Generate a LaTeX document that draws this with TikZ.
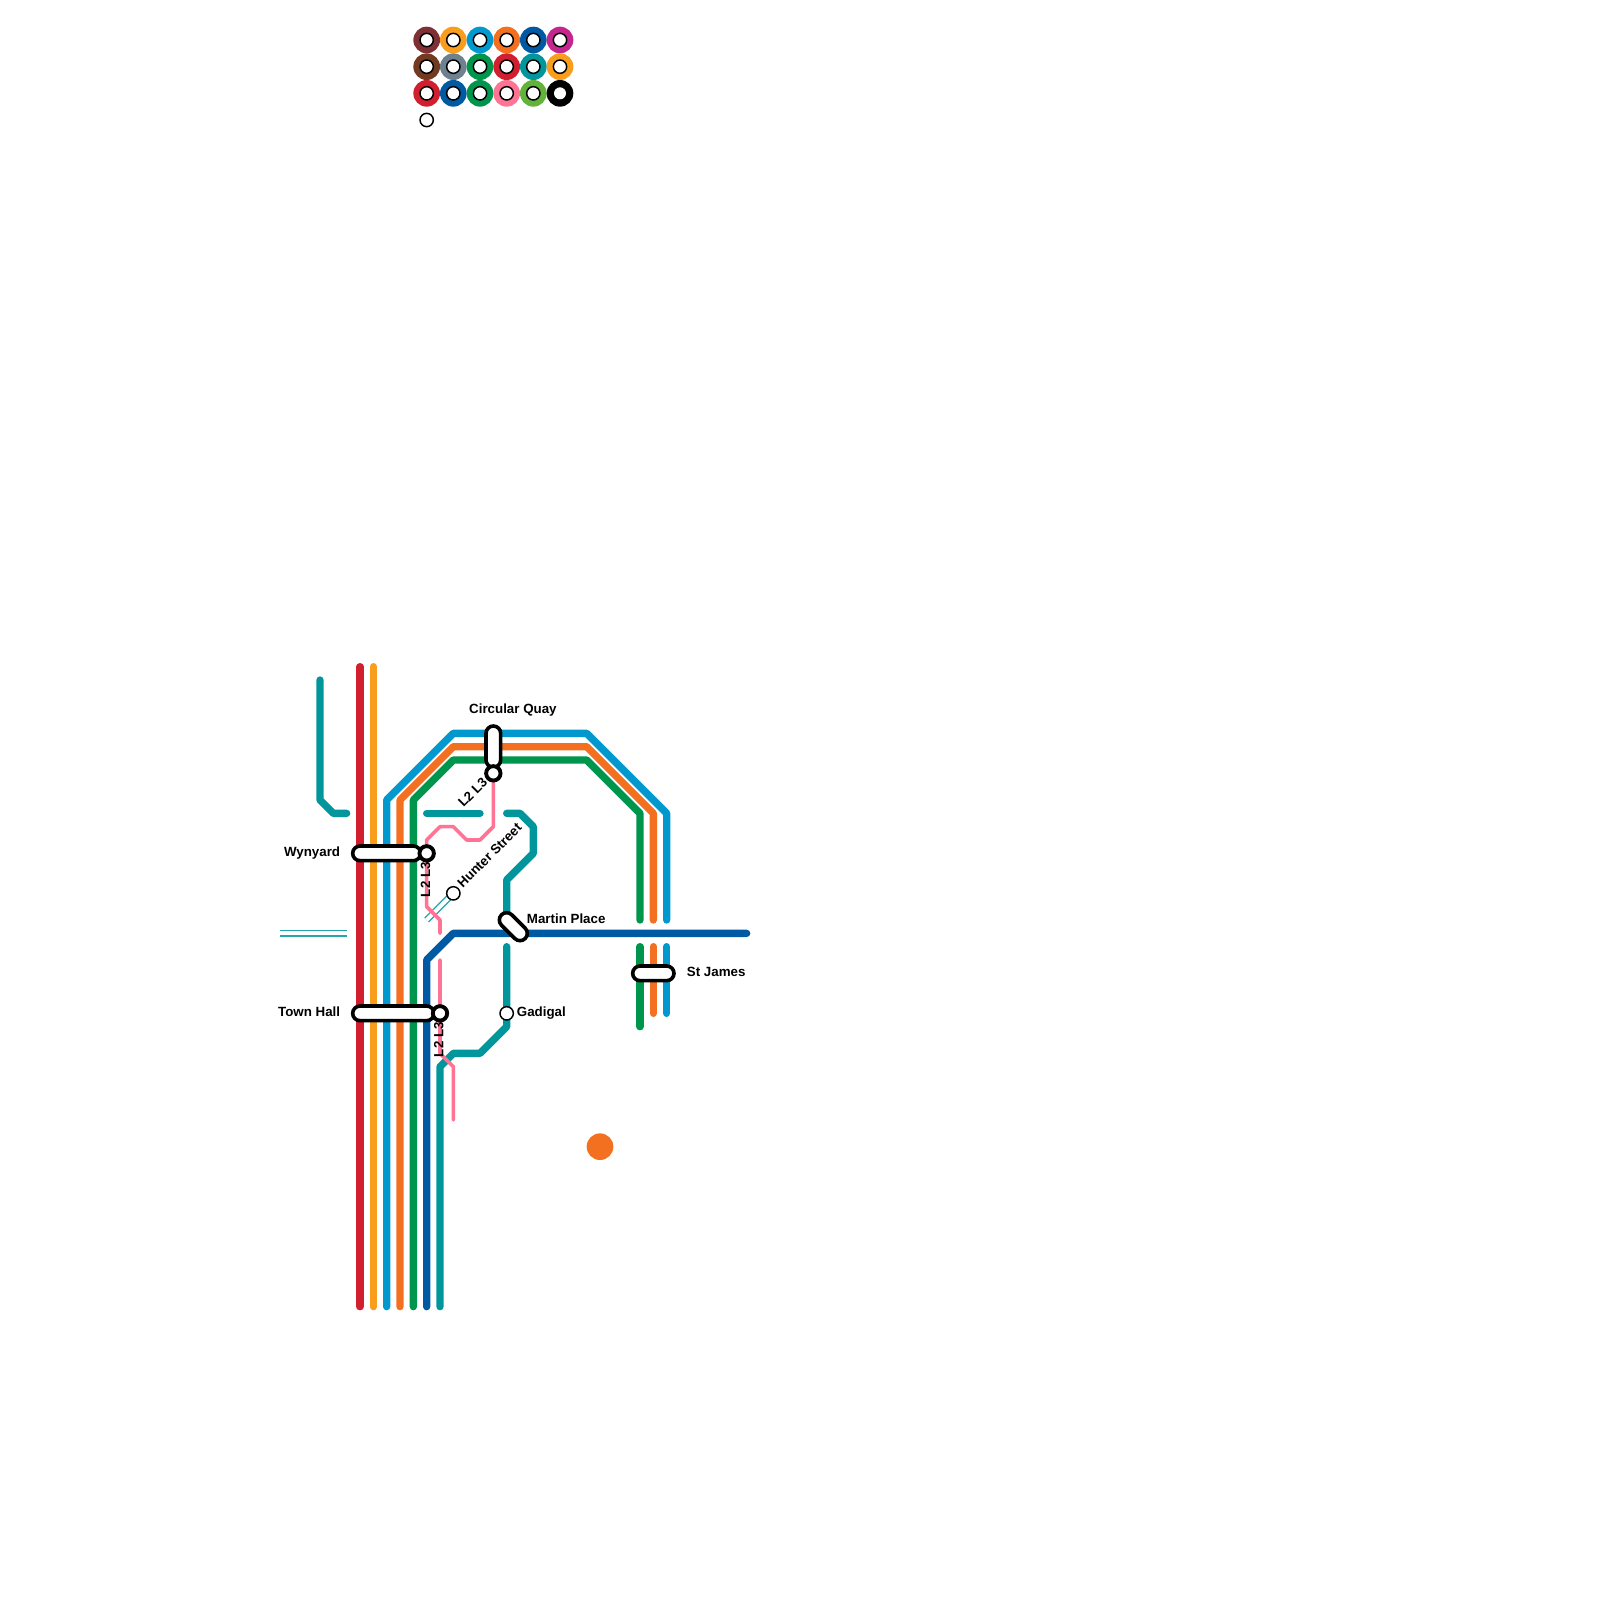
\documentclass[tikz,border=0pt]{standalone}
\usepackage{fontspec}
\setmainfont{Liberation Sans}[BoldFont={Liberation Sans Bold}]
\usetikzlibrary{shapes.misc}
\definecolor{cteal}{HTML}{00969B}
\definecolor{cred}{HTML}{D11F2F}
\definecolor{cyel}{HTML}{F99D1C}
\definecolor{cblue}{HTML}{0098CD}
\definecolor{corg}{HTML}{F37021}
\definecolor{cgrn}{HTML}{00954C}
\definecolor{cnavy}{HTML}{005AA3}
\definecolor{cpink}{HTML}{FF7394}
\definecolor{cmag}{HTML}{C4258F}
\definecolor{cwine}{HTML}{7F3035}
\definecolor{cbrown}{HTML}{723B1F}
\definecolor{cslate}{HTML}{6F818E}
\definecolor{clime}{HTML}{62B33A}
\tikzset{
  x=10pt,y=-10pt,
  route/.style={line width=5.5pt,line cap=round,line join=round},
  thinroute/.style={line width=2.7pt,line cap=round,line join=round,cpink},
  capsule/.style={rounded rectangle,draw=black,fill=white,line width=2.7pt,inner sep=0pt,minimum height=11pt},
  stop/.style={circle,draw=black,fill=white,line width=1.1pt,inner sep=0pt,minimum size=10pt},
  hub/.style={circle,draw=black,fill=white,line width=2.9pt,inner sep=0pt,minimum size=10.8pt},
  disc/.style={circle,fill=#1,inner sep=0pt,minimum size=20pt},
  lab/.style={font=\bfseries\fontsize{10pt}{12pt}\selectfont,inner sep=0pt},
  tunnelA/.style={cteal!85!white,line width=5.1pt},
  tunnelB/.style={white,line width=2.9pt}
}
\begin{document}
\begin{tikzpicture}
\useasboundingbox (0,0) rectangle (120,120);
% endpoints and station positions
\coordinate (pWynyard) at (32,64);
\coordinate (pTown) at (33,76);
\coordinate (pQuay) at (37,58);
\coordinate (pHunter) at (34,67);
\coordinate (pGadigal) at (38,76);
\coordinate (pMartinN) at (38,69);
\coordinate (tunnelEnd) at (32,69);
\coordinate (tunnelL) at (21,70);
\coordinate (tunnelR) at (26,70);
% legend
\foreach \c/\xx/\yy/\n in {cwine/32/3/a,cyel/34/3/b,cblue/36/3/c,corg/38/3/d,cnavy/40/3/e,cmag/42/3/f,
  cbrown/32/5/g,cslate/34/5/h,cgrn/36/5/i,cred/38/5/j,cteal/40/5/k,cyel/42/5/l,
  cred/32/7/m,cnavy/34/7/n,cgrn/36/7/o,cpink/38/7/p,clime/40/7/q,black/42/7/r}{
  \node[disc=\c] (disc\n) at (\xx,\yy) {};
}
\foreach \n in {a,b,c,d,e,f,g,h,i,j,k,l,m,n,o,p,q}{\node[stop] (ring\n) at (disc\n) {};}
\node[circle,fill=white,inner sep=0pt,minimum size=9pt] (ringr) at (discr) {};
\node[stop] (ringz) at (32,9) {};
% orange dot
\node[circle,fill=corg,inner sep=0pt,minimum size=20pt] (dot) at (45,86) {};
% thin tunnel lines
\draw[tunnelA] (tunnelL) -- (tunnelR);
\draw[tunnelB] (tunnelL) -- (tunnelR);
\draw[tunnelA] (pHunter) -- (tunnelEnd);
\draw[tunnelB] (pHunter) -- (tunnelEnd);
% main lines
\draw[route,cteal] (24,51) -- (24,60) -- (25,61) -- (26,61);
\draw[route,cred] (27,50) -- (27,98);
\draw[route,cyel] (28,50) -- (28,98);
\draw[route,cblue] (29,98) -- (29,60) -- (34,55) -- (44,55) -- (50,61) -- (50,69);
\draw[route,cblue] (50,71) -- (50,76);
\draw[route,corg] (30,98) -- (30,60) -- (34,56) -- (44,56) -- (49,61) -- (49,69);
\draw[route,corg] (49,71) -- (49,76);
\draw[route,cgrn] (31,98) -- (31,60) -- (34,57) -- (44,57) -- (48,61) -- (48,69);
\draw[route,cgrn] (48,71) -- (48,77);
\draw[route,cteal] (33,98) -- (33,80) -- (34,79) -- (36,79) -- (38,77) -- (pGadigal) -- (38,71);
\draw[route,cteal] (32,61) -- (36,61);
\draw[route,cteal] (38,61) -- (39,61) -- (40,62) -- (40,64) -- (38,66) -- (pMartinN);
\draw[route,cnavy] (32,98) -- (32,72) -- (34,70) -- (56,70);
% pink
\draw[thinroute] (pQuay) -- (37,62) -- (36,63) -- (35,63) -- (34,62) -- (33,62) -- (32,63) -- (32,68) -- (33,69) -- (33,70);
\draw[thinroute] (33,72) -- (pTown) -- (33,79) -- (34,80) -- (34,84);
% stations
\node[capsule,minimum width=51pt] (wynyard) at (29,64) {};
\node[capsule,minimum width=61pt] (townhall) at (29.5,76) {};
\node[capsule,minimum width=31pt,rotate=90] (quay) at (37,56) {};
\node[capsule,minimum width=25.14pt,rotate=-45] (martin) at (38.5,69.5) {};
\node[capsule,minimum width=31pt] (james) at (49,73) {};
\node[hub] (hubW) at (pWynyard) {};
\node[hub] (hubT) at (pTown) {};
\node[hub] (hubQ) at (pQuay) {};
\node[stop] (hunter) at (pHunter) {};
\node[stop] (gadigal) at (pGadigal) {};
% labels
\node[lab,anchor=base east] (lW) at (25.53,64.23) {Wynyard};
\node[lab,anchor=base east] (lT) at (25.53,76.25) {Town Hall};
\node[lab,anchor=base west] (lQ) at (35.17,53.53) {Circular Quay};
\node[lab,anchor=base west] (lM) at (39.5,69.28) {Martin Place};
\node[lab,anchor=base west] (lJ) at (51.5,73.2) {St James};
\node[lab,anchor=base west] (lG) at (38.75,76.2) {Gadigal};
\node[lab,anchor=base west,rotate=90] (l2W) at (32.25,67.3) {L2 L3};
\node[lab,anchor=base west,rotate=90] (l2T) at (33.25,79.3) {L2 L3};
\node[lab,anchor=base west,rotate=45] (l2Q) at (34.75,60.6) {L2 L3};
\node[lab,anchor=base west,rotate=45] (lH) at (34.7,66.65) {Hunter Street};
\end{tikzpicture}
\end{document}
